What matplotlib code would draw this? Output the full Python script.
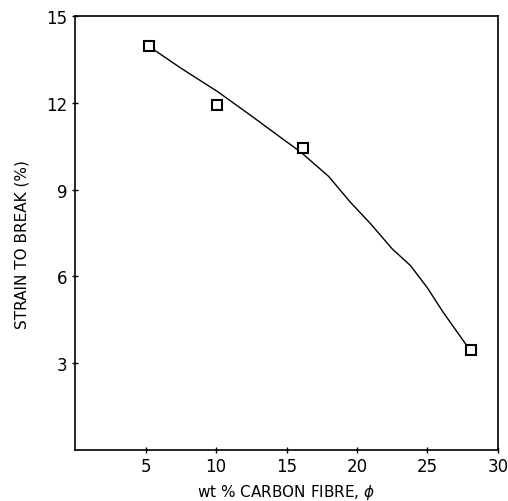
import matplotlib
matplotlib.use("Agg")
import matplotlib.pyplot as plt

# measured points
fibre_wt = [5.25, 10.1, 16.2, 28.1]
strain = [13.98, 11.94, 10.45, 3.46]

# hand-drawn trend curve
curve_x = [5.45, 7.5, 10.1, 12.5, 14.7, 16.0, 18.0, 19.5, 21.0, 22.5, 23.8, 25.0, 26.1, 27.8]
curve_y = [13.88, 13.2, 12.39, 11.55, 10.76, 10.3, 9.45, 8.58, 7.8, 6.95, 6.37, 5.6, 4.77, 3.6]

xticks = [5, 10, 15, 20, 25, 30]
yticks = [3, 6, 9, 12, 15]

plt.rcParams['font.family'] = ['DejaVu Sans']

fig = plt.figure(figsize=(5.08, 5.02), dpi=100)
ax = fig.add_axes([0.148, 0.102, 0.832, 0.864])

ax.plot(curve_x, curve_y, color='black', lw=1.0)
ax.plot(fibre_wt, strain, 's', ms=7, mfc='white', mec='black', mew=1.5)

ax.set_xlim(0, 30)
ax.set_ylim(0, 15)
ax.set_xticks(xticks)
ax.set_yticks(yticks)
ax.tick_params(direction='inout', length=5, width=1.0, labelsize=12, pad=3)
for s in ax.spines.values():
    s.set_linewidth(1.2)

ax.set_xlabel('wt % CARBON FIBRE, $\\phi$', fontsize=11, labelpad=5)
ax.set_ylabel('STRAIN TO BREAK (%)', fontsize=11, labelpad=13)
ax.yaxis.set_label_coords(-0.108, 0.475)

fig.savefig('out.png', dpi=100)
